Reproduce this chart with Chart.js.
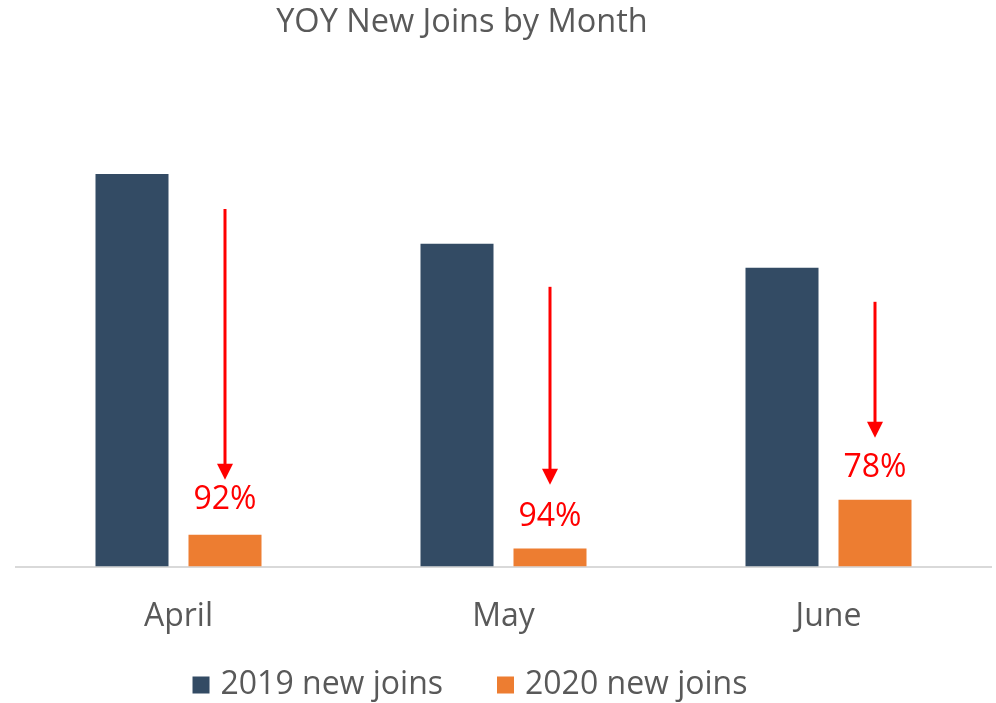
<!DOCTYPE html>
<html>
<head>
<meta charset="utf-8">
<script src="https://cdn.jsdelivr.net/npm/chart.js@4/dist/chart.umd.min.js"></script>
<style>
html,body{margin:0;padding:0;background:#fff;}
#wrap{width:996px;height:703px;}
</style>
</head>
<body>
<div id="wrap"><canvas id="c"></canvas></div>
<script>
const categories = ["April", "May", "June"];
const seriesNames = ["2019 new joins", "2020 new joins"];
const joins2019 = [393, 323, 299];
const joins2020 = [32, 18, 67];
const dropLabels = ["92%", "94%", "78%"];
const arrowFrom = [358, 280, 265];
const arrowTo = [87, 82, 129];
const dropLabelAt = [67, 50, 99];
const titleText = "YOY New Joins by Month";

const FONT = "'Open Sans', sans-serif";
const GREY = "#595959";

const titlePlugin = {
  id: 'customTitle',
  afterDraw(chart) {
    const ctx = chart.ctx;
    ctx.save();
    ctx.font = "32.5px " + FONT;
    ctx.fillStyle = GREY;
    ctx.textAlign = 'center';
    ctx.textBaseline = 'middle';
    ctx.fillText(titleText, 462, 23);
    ctx.restore();
  }
};

const arrowPlugin = {
  id: 'dropArrows',
  afterDatasetsDraw(chart) {
    const ctx = chart.ctx;
    const y = chart.scales.y;
    const meta = chart.getDatasetMeta(1);
    ctx.save();
    for (let i = 0; i < categories.length; i++) {
      const x = meta.data[i].x;
      const y0 = y.getPixelForValue(arrowFrom[i]);
      const y1 = y.getPixelForValue(arrowTo[i]);
      const head = 16;
      ctx.strokeStyle = '#ff0000';
      ctx.fillStyle = '#ff0000';
      ctx.lineWidth = 3;
      ctx.beginPath();
      ctx.moveTo(x, y0);
      ctx.lineTo(x, y1 - head + 2);
      ctx.stroke();
      ctx.beginPath();
      ctx.moveTo(x - 8, y1 - head);
      ctx.lineTo(x + 8, y1 - head);
      ctx.lineTo(x, y1);
      ctx.closePath();
      ctx.fill();
      ctx.font = "32px " + FONT;
      ctx.textAlign = 'center';
      ctx.textBaseline = 'middle';
      ctx.fillText(dropLabels[i], x, y.getPixelForValue(dropLabelAt[i]));
    }
    ctx.restore();
  }
};

const legendPlugin = {
  id: 'customLegend',
  afterDraw(chart) {
    const ctx = chart.ctx;
    ctx.save();
    ctx.font = "32px " + FONT;
    ctx.textBaseline = 'middle';
    ctx.textAlign = 'left';
    const box = 17, gapText = 11, gapItem = 54;
    const widths = chart.data.datasets.map(d => ctx.measureText(d.label).width);
    const total = widths.reduce((a, w) => a + box + gapText + w, 0) + gapItem * (widths.length - 1);
    let x = 470 - total / 2;
    const cy = 685;
    chart.data.datasets.forEach((d, i) => {
      ctx.fillStyle = d.backgroundColor;
      ctx.fillRect(x, cy - box / 2, box, box);
      x += box + gapText;
      ctx.fillStyle = GREY;
      ctx.fillText(d.label, x, cy);
      x += widths[i] + gapItem;
    });
    ctx.restore();
  }
};

new Chart(document.getElementById('c'), {
  type: 'bar',
  data: {
    labels: categories,
    datasets: [
      { label: seriesNames[0], data: joins2019, backgroundColor: '#334b64', categoryPercentage: 0.5723, barPercentage: 0.785 },
      { label: seriesNames[1], data: joins2020, backgroundColor: '#ed7d31', categoryPercentage: 0.5723, barPercentage: 0.785 }
    ]
  },
  options: {
    responsive: true,
    maintainAspectRatio: false,
    animation: false,
    layout: { padding: { top: 60, left: 16, right: 5, bottom: 36 } },
    plugins: { legend: { display: false }, title: { display: false }, tooltip: { enabled: false } },
    scales: {
      x: {
        grid: { display: false, drawTicks: false },
        border: { display: true, color: '#d9d9d9', width: 2 },
        ticks: { color: GREY, font: { family: FONT, size: 32 }, padding: 31 }
      },
      y: { display: false, min: 0, max: 507 }
    }
  },
  plugins: [titlePlugin, arrowPlugin, legendPlugin]
});
</script>
</body>
</html>
